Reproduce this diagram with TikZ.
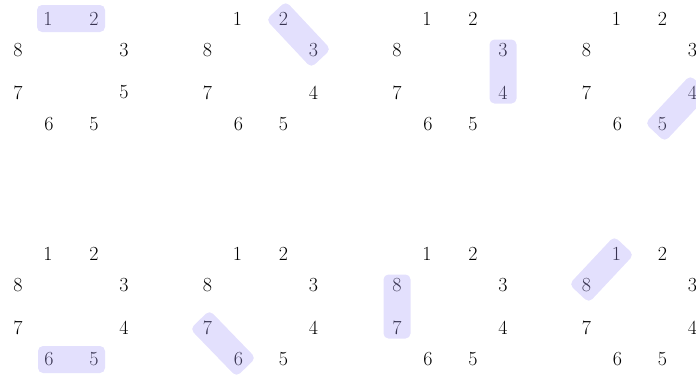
\documentclass[tikz,border=0pt]{standalone}
\usetikzlibrary{calc}
\definecolor{hlcol}{RGB}{170,160,248}
\tikzset{
  num/.style={inner sep=0pt, font=\fontsize{20}{23}\selectfont, text=black},
  hl/.style={fill=hlcol, fill opacity=0.33, rounded corners=5pt}
}
\newcommand{\pairbox}[2]{%
  \path ($(#1)!-11pt!(#2)$) coordinate (pA) ($(#2)!-11pt!(#1)$) coordinate (pB);
  \fill[hl] ($(pA)!13.5pt!90:(pB)$) -- ($(pB)!13.5pt!-90:(pA)$) -- ($(pB)!13.5pt!90:(pA)$) -- ($(pA)!13.5pt!-90:(pB)$) -- cycle;
}
\begin{document}
\begin{tikzpicture}[x=1pt,y=-1pt]
\useasboundingbox (0,0) rectangle (696,376);
\foreach \r/\i/\four/\a/\b in {0/0/5/1/2, 0/1/4/2/3, 0/2/4/3/4, 0/3/4/4/5, 1/0/4/6/5, 1/1/4/7/6, 1/2/4/8/7, 1/3/4/1/8}{
  \begin{scope}[shift={(189.5*\i,235*\r)}]
    \node[num] (n\r\i-1) at (48,18.5) {1};
    \node[num] (n\r\i-2) at (94,18.5) {2};
    \node[num] (n\r\i-3) at (124,50.5) {3};
    \node[num] (n\r\i-4) at (124,92.5) {\four};
    \node[num] (n\r\i-5) at (94,124.5) {5};
    \node[num] (n\r\i-6) at (49,124.5) {6};
    \node[num] (n\r\i-7) at (18,92.5) {7};
    \node[num] (n\r\i-8) at (18,50.5) {8};
  \end{scope}
  \pairbox{n\r\i-\a}{n\r\i-\b}
}
\end{tikzpicture}
\end{document}
